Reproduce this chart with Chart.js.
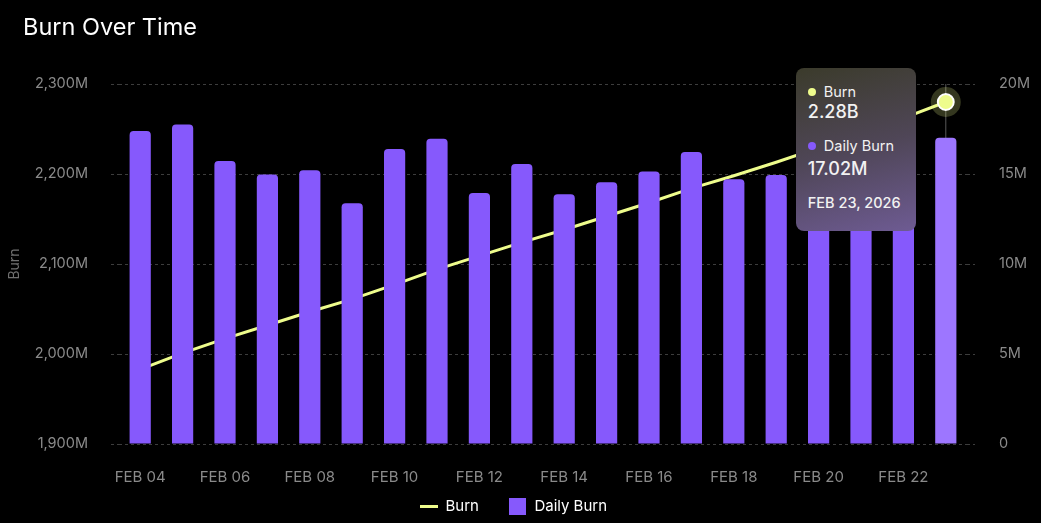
<!DOCTYPE html>
<html>
<head>
<meta charset="utf-8">
<script src="https://cdn.jsdelivr.net/npm/chart.js@4"></script>
<style>
  html, body { margin: 0; padding: 0; background: #000; }
  #wrap { position: relative; width: 1041px; height: 523px; font-family: Inter, sans-serif; }
  #title { position: absolute; left: 23px; top: 12px; color: #fff; font-size: 23.5px; font-weight: 400; }
  #tip {
    position: absolute; width: 120px; height: 163px; box-sizing: border-box;
    padding: 15px 12px; border-radius: 8px; color: #f2f2f2; pointer-events: none;
    background: linear-gradient(165deg, #3b3b2b 0%, #4f4657 50%, #6e5b93 100%);
    display: none;
  }
  #tip .row { font-size: 14.5px; line-height: 18px; display: flex; align-items: center; }
  #tip .dot { width: 8px; height: 8px; border-radius: 50%; margin-right: 8px; }
  #tip .val { font-size: 18px; line-height: 22px; font-weight: 500; margin: 0 0 14px 0; }
  #tip .val.second { margin-top: 3px; }
  #tip .date { font-size: 14.5px; line-height: 18px; font-weight: 500; margin-top: 8px; }
</style>
</head>
<body>
<div id="wrap">
  <div id="title">Burn Over Time</div>
  <canvas id="chart-burn" width="1041" height="523"></canvas>
  <div id="tip"></div>
</div>
<script>
// Feb 04 .. Feb 23, 2026
const days = ['FEB 04', 'FEB 05', 'FEB 06', 'FEB 07', 'FEB 08', 'FEB 09', 'FEB 10', 'FEB 11', 'FEB 12', 'FEB 13',
  'FEB 14', 'FEB 15', 'FEB 16', 'FEB 17', 'FEB 18', 'FEB 19', 'FEB 20', 'FEB 21', 'FEB 22', 'FEB 23'];
const fullDates = days.map(d => d + ', 2026');

// cumulative burn, millions
const burn = [1983, 2001, 2017, 2032, 2047, 2061, 2077, 2094, 2109, 2124,
  2138, 2153, 2168, 2184, 2198, 2213, 2229, 2246, 2262, 2280];

// daily burn, millions
const dailyBurn = [17.39, 17.75, 15.72, 14.97, 15.21, 13.37, 16.39, 16.96, 13.95, 15.55,
  13.87, 14.54, 15.14, 16.22, 14.71, 14.95, 14.8, 15.6, 16.1, 17.02];

const burnTicks = { min: 1900, max: 2300, step: 100 };
const dailyTicks = { min: 0, max: 20, step: 5 };

const colors = {
  line: '#eefc8c',
  bar: '#8659fc',
  barHover: '#9d76ff',
  tick: '#8a8a8a',
  grid: '#3d3d3d',
};

const activeIndex = days.length - 1;

// legend markers: short line for Burn, square for Daily Burn
function marker(w, h, color) {
  const c = document.createElement('canvas');
  c.width = w;
  c.height = h;
  const g = c.getContext('2d');
  g.fillStyle = color;
  g.fillRect(0, 0, w, h);
  return c;
}
const lineMarker = marker(18, 3, colors.line);
const boxMarker = marker(17, 17, colors.bar);

const crosshair = {
  id: 'crosshair',
  afterLayout(chart) {
    // pull the legend up closer to the axis labels
    chart.legend.top -= 19.5;
    chart.legend.bottom -= 19.5;
    chart.legend.left -= 7;
    chart.legend.right -= 7;
  },
  beforeDatasetsDraw(chart) {
    const act = chart.getActiveElements();
    if (!act.length) return;
    const x = act[0].element.x;
    const { top, bottom } = chart.chartArea;
    const c = chart.ctx;
    c.save();
    c.strokeStyle = 'rgba(255,255,255,0.35)';
    c.lineWidth = 1;
    c.beginPath();
    c.moveTo(x, top);
    c.lineTo(x, bottom);
    c.stroke();
    c.restore();
  },
  afterDatasetsDraw(chart) {
    const act = chart.getActiveElements().find(a => a.datasetIndex === 0);
    if (!act) return;
    const c = chart.ctx;
    c.save();
    c.strokeStyle = 'rgba(238,252,140,0.22)';
    c.lineWidth = 6;
    c.beginPath();
    c.arc(act.element.x, act.element.y, 12, 0, Math.PI * 2);
    c.stroke();
    c.restore();
  },
};

function externalTip(context) {
  const tip = document.getElementById('tip');
  const t = context.tooltip;
  if (t.opacity === 0) { tip.style.display = 'none'; return; }
  const i = t.dataPoints[0].dataIndex;
  const p = context.chart.getDatasetMeta(0).data[i];
  tip.innerHTML =
    '<div class="row"><span class="dot" style="background:' + colors.line + '"></span>Burn</div>' +
    '<div class="val">' + (burn[i] / 1000).toFixed(2) + 'B</div>' +
    '<div class="row"><span class="dot" style="background:' + colors.bar + '"></span>Daily Burn</div>' +
    '<div class="val second">' + dailyBurn[i].toFixed(2) + 'M</div>' +
    '<div class="date">' + fullDates[i] + '</div>';
  tip.style.display = 'block';
  tip.style.left = (p.x - 150) + 'px';
  tip.style.top = (p.y - 34) + 'px';
}

const ctx = document.getElementById('chart-burn');
const chart = new Chart(ctx, {
  data: {
    labels: days,
    datasets: [{
      type: 'line',
      label: 'Burn',
      data: burn,
      yAxisID: 'y',
      order: 2,
      borderColor: colors.line,
      backgroundColor: colors.line,
      borderWidth: 3,
      pointRadius: 0,
      pointHoverRadius: 8,
      pointHoverBackgroundColor: colors.line,
      pointHoverBorderColor: '#fff',
      pointHoverBorderWidth: 2,
      tension: 0,
    }, {
      type: 'bar',
      label: 'Daily Burn',
      data: dailyBurn,
      yAxisID: 'y1',
      order: 1,
      backgroundColor: colors.bar,
      hoverBackgroundColor: colors.barHover,
      borderWidth: 0,
      borderRadius: { topLeft: 4, topRight: 4 },
      borderSkipped: 'bottom',
      barPercentage: 0.5,
      categoryPercentage: 1,
    }],
  },
  options: {
    responsive: false,
    animation: false,
    interaction: { mode: 'index', intersect: false },
    layout: { padding: { top: 84, left: 0, right: 0, bottom: -20 } },
    plugins: {
      legend: {
        position: 'bottom',
        labels: {
          usePointStyle: true,
          boxWidth: 18,
          boxHeight: 17,
          pointStyleWidth: 18,
          padding: 30,
          color: '#fff',
          font: { family: 'Inter', size: 15 },
          sort: (a, b) => a.datasetIndex - b.datasetIndex,
          generateLabels(chart) {
            const items = Chart.defaults.plugins.legend.labels.generateLabels(chart);
            items.forEach(it => {
              it.pointStyle = it.datasetIndex === 0 ? lineMarker : boxMarker;
            });
            return items;
          },
        },
      },
      tooltip: { enabled: false, external: externalTip },
    },
    scales: {
      x: {
        grid: { display: false },
        border: { display: false },
        afterFit: s => { s.height = 44; },
        ticks: {
          autoSkip: false,
          maxRotation: 0,
          padding: 16,
          color: colors.tick,
          font: { family: 'Inter', size: 15 },
          callback: (v, i) => (i % 2 === 0 ? days[i] : ''),
        },
      },
      y: {
        position: 'left',
        min: burnTicks.min,
        max: burnTicks.max,
        afterFit: s => { s.width = 119; },
        title: { display: true, text: 'Burn', color: '#707070', font: { family: 'Inter', size: 14 }, padding: 6 },
        grid: { color: colors.grid, tickBorderDash: [3, 3], tickLength: 8, tickColor: colors.grid },
        border: { display: false, dash: [3, 3] },
        ticks: {
          stepSize: burnTicks.step,
          padding: 23,
          color: colors.tick,
          font: { family: 'Inter', size: 14.5 },
          callback: v => v.toLocaleString('en-US') + 'M',
        },
      },
      y1: {
        position: 'right',
        min: dailyTicks.min,
        max: dailyTicks.max,
        afterFit: s => { s.width = 74; },
        grid: { drawOnChartArea: false, tickBorderDash: [3, 3], tickLength: 8, tickColor: colors.grid },
        border: { display: false },
        ticks: {
          stepSize: dailyTicks.step,
          padding: 24,
          color: colors.tick,
          font: { family: 'Inter', size: 14.5 },
          callback: v => (v === 0 ? '0' : v + 'M'),
        },
      },
    },
  },
  plugins: [crosshair],
});

const active = [{ datasetIndex: 0, index: activeIndex }, { datasetIndex: 1, index: activeIndex }];
chart.setActiveElements(active);
const pt = chart.getDatasetMeta(0).data[activeIndex];
chart.tooltip.setActiveElements(active, { x: pt.x, y: pt.y });
chart.update();
</script>
</body>
</html>
